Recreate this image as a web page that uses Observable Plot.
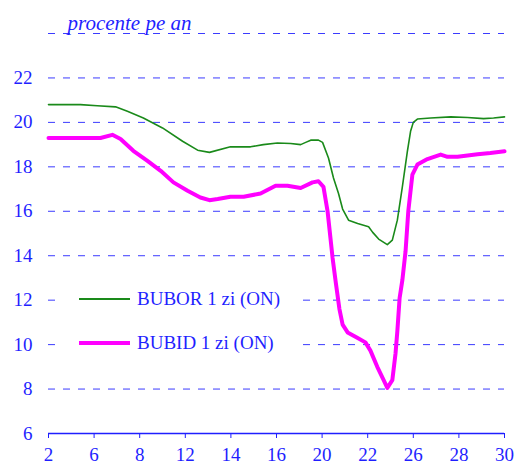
<!DOCTYPE html>
<html><head><meta charset="utf-8">
<script src="https://cdn.jsdelivr.net/npm/d3@7"></script>
<script src="https://cdn.jsdelivr.net/npm/@observablehq/plot@0.6"></script>
<style>
body{margin:0;background:#fff;}
#wrap{position:relative;width:515px;height:466px;}
#chart svg, #chart svg text{font-family:"Liberation Serif",serif !important;}
#legend{position:absolute;left:57px;top:283px;width:242px;height:78px;background:#fff;font-family:"Liberation Serif",serif;font-size:19px;color:#1f1fff;}
#legend .row{position:absolute;left:0;height:22px;width:242px;}
#legend .sw{position:absolute;left:22px;width:51px;}
#legend .lab{position:absolute;left:80px;white-space:nowrap;line-height:22px;top:0;}
</style></head><body>
<div id="wrap"><div id="chart"></div>
<div id="legend">
  <div class="row" style="top:5px"><div class="sw" style="top:10px;border-top:2px solid #1a8a1a"></div><div class="lab">BUBOR 1 zi (ON)</div></div>
  <div class="row" style="top:49px"><div class="sw" style="top:9px;border-top:4px solid #ff00ff"></div><div class="lab">BUBID 1 zi (ON)</div></div>
</div></div>
<script>
const xTickLabels = ["2","6","8","12","14","16","20","22","26","28","30"];
const yTicks = [6,8,10,12,14,16,18,20,22];
const gridValues = [8,10,12,14,16,18,20,22,24];
const titleText = "procente pe an";

const buborPos = [0,0.70,1.07,1.47,1.73,2.08,2.50,2.94,3.27,3.53,3.99,4.43,4.71,5.02,5.31,5.53,5.64,5.75,5.92,6.01,6.14,6.25,6.36,6.45,6.58,6.78,7.02,7.11,7.24,7.43,7.54,7.65,7.76,7.87,7.94,8.00,8.09,8.38,8.82,9.19,9.54,9.76,10.0];
const buborVal = [20.8,20.8,20.75,20.7,20.5,20.2,19.75,19.15,18.75,18.65,18.9,18.9,19.0,19.07,19.05,19.0,19.1,19.2,19.2,19.1,18.4,17.5,16.8,16.1,15.6,15.45,15.3,15.05,14.75,14.5,14.7,15.6,17.1,18.7,19.6,20.0,20.15,20.2,20.25,20.22,20.17,20.2,20.25];

const bubidPos = [0,1.14,1.40,1.58,1.86,2.17,2.46,2.74,3.05,3.33,3.53,3.71,3.99,4.28,4.65,4.98,5.24,5.53,5.79,5.92,6.03,6.12,6.23,6.30,6.38,6.45,6.56,6.78,6.95,7.06,7.21,7.35,7.43,7.54,7.61,7.65,7.70,7.76,7.83,7.89,7.98,8.09,8.31,8.60,8.75,8.97,9.41,9.69,10.0];
const bubidVal = [19.3,19.3,19.44,19.25,18.72,18.27,17.82,17.3,16.92,16.62,16.5,16.55,16.65,16.65,16.8,17.15,17.15,17.05,17.3,17.35,17.1,16.0,13.9,12.8,11.6,10.9,10.55,10.3,10.1,9.73,9.0,8.4,8.05,8.4,9.6,10.6,12.1,12.9,14.2,16.0,17.65,18.1,18.35,18.55,18.45,18.45,18.57,18.62,18.7];

const bubor = buborPos.map((p,i)=>({p, v:buborVal[i]}));
const bubid = bubidPos.map((p,i)=>({p, v:bubidVal[i]}));
const blue = "#1f1fff";
const serif = "Liberation Serif";

const chart = Plot.plot({
  width:515, height:466,
  marginLeft:48, marginRight:11, marginTop:33, marginBottom:33,
  style:{fontFamily:serif, fontSize:"19px", color:blue, background:"#fff"},
  x:{domain:[0,10]},
  y:{domain:[6,24]},
  marks:[
    Plot.ruleY(gridValues, {stroke:"#3b3bff", strokeDasharray:"7,8"}),
    Plot.axisY({ticks:yTicks, tickSize:0, tickPadding:16, label:null, fill:blue, fontSize:19, fontFamily:serif}),
    Plot.axisX({ticks:d3.range(xTickLabels.length), tickFormat:i=>xTickLabels[i], tickSize:5, tickPadding:9, stroke:blue, fill:blue, label:null, fontSize:19, fontFamily:serif}),
    Plot.ruleY([6], {stroke:blue, strokeWidth:1.3}),
    Plot.line(bubor, {x:"p", y:"v", stroke:"#1a8a1a", strokeWidth:1.6}),
    Plot.line(bubid, {x:"p", y:"v", stroke:"#ff00ff", strokeWidth:4}),
    Plot.text([titleText], {frameAnchor:"top-left", dx:19, dy:-4, lineAnchor:"bottom", fill:blue, fontSize:21, fontStyle:"italic", fontFamily:serif})
  ]
});
document.getElementById("chart").appendChild(chart);
</script>
</body></html>
